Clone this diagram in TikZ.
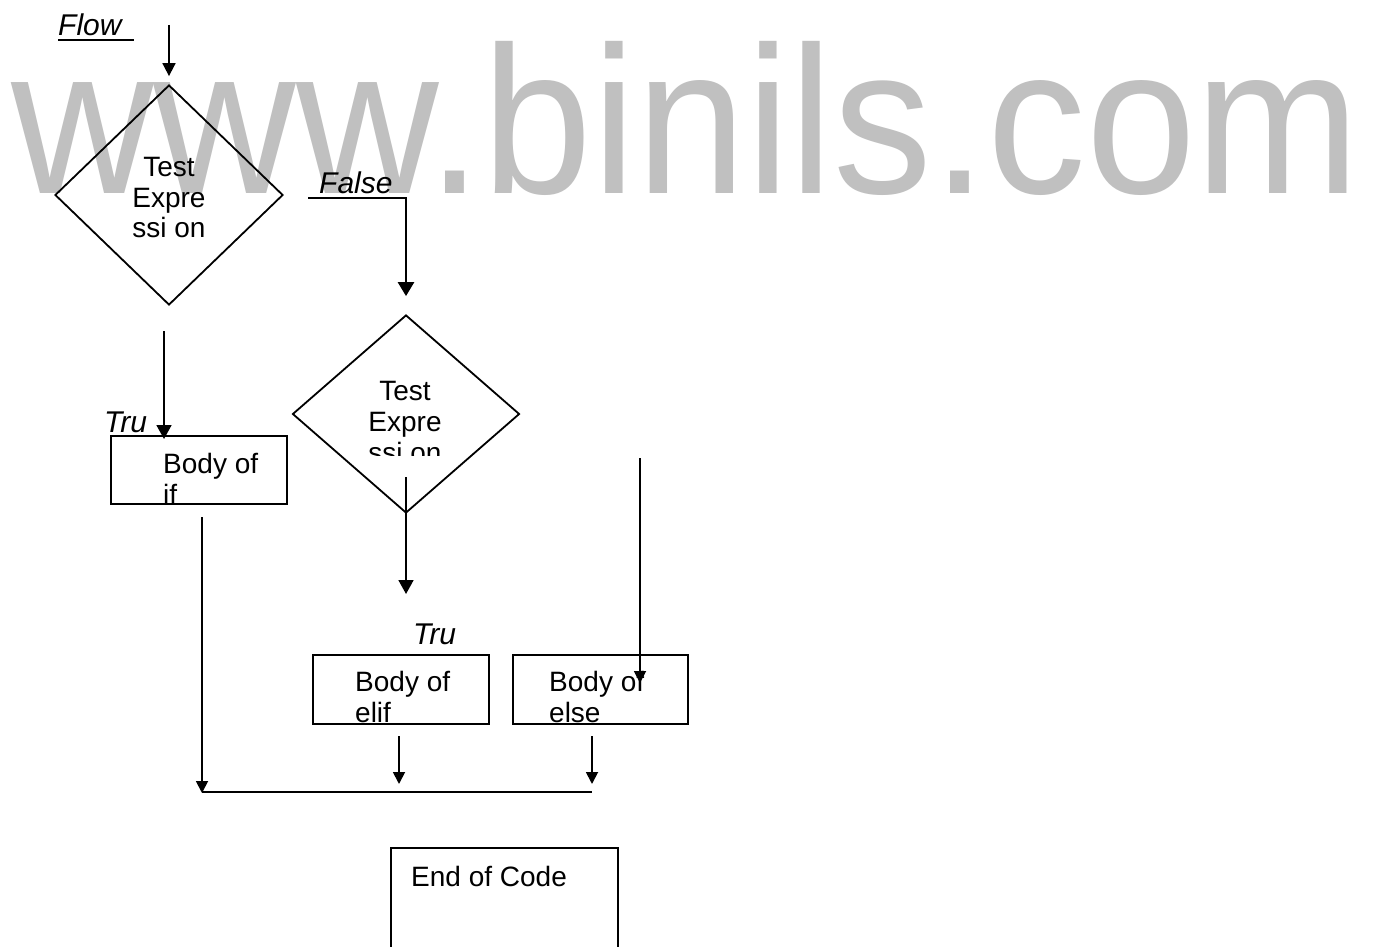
\documentclass[tikz,border=0pt]{standalone}
\usepackage{fontspec}
\setmainfont{Liberation Sans}
\usetikzlibrary{shapes.geometric,arrows.meta}
\definecolor{wmgray}{RGB}{192,192,192}
\begin{document}
\begin{tikzpicture}[x=1pt,y=-1pt,
  thinline/.style={line width=1.8pt, draw=black},
  arr/.style={line width=1.8pt, draw=black, -{Triangle[length=14pt,width=15pt]}},
  sarr/.style={line width=1.8pt, draw=black, -{Triangle[length=12pt,width=12pt]}},
  boxs/.style={draw, line width=2pt, inner sep=0pt, anchor=north west, rectangle},
  dia/.style={draw, diamond, line width=1.8pt, inner sep=0pt},
  body/.style={font=\fontsize{28}{30}\selectfont, inner sep=0pt, anchor=base west},
  dtext/.style={font=\fontsize{28}{30}\selectfont, inner sep=0pt, anchor=base},
  lab/.style={font=\fontsize{30}{32}\selectfont\itshape, inner sep=0pt, anchor=base west},
  wm/.style={font=\fontsize{210}{212}\selectfont, text=wmgray, inner sep=0pt, anchor=base west}
]
\useasboundingbox (0,0) rectangle (1378,947);
\clip (0,0) rectangle (1378,947);
\fill[white] (0,0) rectangle (1378,947);

% watermark
\node[wm] (wmark) at (11,193) {\scalebox{0.94}[1]{www.binils.com}};

% labels
\node[lab] (flow) at (58,36) {Flow};
\draw[thinline] (58,40) -- (134,40);
\node[lab] (false) at (319,193) {False};
\node[lab] (tru1) at (104,432) {Tru};
\node[lab] (tru2) at (413,644) {Tru};

% diamonds
\node[dia, minimum width=228pt, minimum height=220pt] (d1) at (169,195) {};
\node[dtext] (d1a) at (169,176) {Test};
\node[dtext] (d1b) at (169,207) {Expre};
\node[dtext] (d1c) at (169,237) {ssi on};

\node[dia, minimum width=227pt, minimum height=198pt] (d2) at (406,414) {};
\begin{scope}
  \clip (360,370) rectangle (450,455);
  \node[dtext] (d2a) at (405,400) {Test};
  \node[dtext] (d2b) at (405,431) {Expre};
  \node[dtext] (d2c) at (405,462) {ssi on};
\end{scope}

% boxes
\node[boxs, minimum width=176pt, minimum height=68pt] (bif) at (110,435) {};
\begin{scope}
  \clip (110,436) rectangle (286,503);
  \node[body] (bift) at (163,473) {Body of};
  \node[body] (bift2) at (163,504) {if};
\end{scope}

\node[boxs, minimum width=176pt, minimum height=69pt] (belif) at (312,654) {};
\begin{scope}
  \clip (312,655) rectangle (488,723);
  \node[body] (belift) at (355,691) {Body of};
  \node[body] (belift2) at (355,722) {elif};
\end{scope}

\node[boxs, minimum width=175pt, minimum height=69pt] (belse) at (512,654) {};
\begin{scope}
  \clip (512,655) rectangle (687,723);
  \node[body] (belset) at (549,691) {Body of};
  \node[body] (belset2) at (549,722) {else};
\end{scope}

\node[boxs, minimum width=227pt, minimum height=130pt] (bend) at (390,847) {};
\node[body] (bendt) at (411,886) {End of Code};

% connectors
\coordinate (s1) at (169,25);
\draw[line width=1.8pt, -{Triangle[length=13pt,width=13pt]}, shorten >=8pt] (s1) -- (d1.north);

\coordinate (f0) at (308,198);
\draw[line width=2.6pt, -{Triangle[length=14pt,width=16pt]}, shorten >=18pt] (f0) -| (d2.north);

\coordinate (t1) at (164,331);
\draw[arr, shorten >=-4pt] (t1) -- (t1 |- bif.north);

\coordinate (t2) at (406,477);
\coordinate (t2e) at (406,594);
\draw[arr] (t2) -- (t2e);

\coordinate (e1) at (640,458);
\coordinate (e1e) at (640,683);
\draw[sarr] (e1) -- (e1e);

\coordinate (o1) at (399,736);
\coordinate (o1e) at (399,784);
\draw[sarr] (o1) -- (o1e);
\coordinate (o2) at (592,736);
\coordinate (o2e) at (592,784);
\draw[sarr] (o2) -- (o2e);

\coordinate (l1) at (202,517);
\coordinate (l1e) at (202,793);
\draw[sarr] (l1) -- (l1e);

\coordinate (h1) at (202,792);
\coordinate (h2) at (592,792);
\draw[thinline] (h1) -- (h2);
\end{tikzpicture}
\end{document}
